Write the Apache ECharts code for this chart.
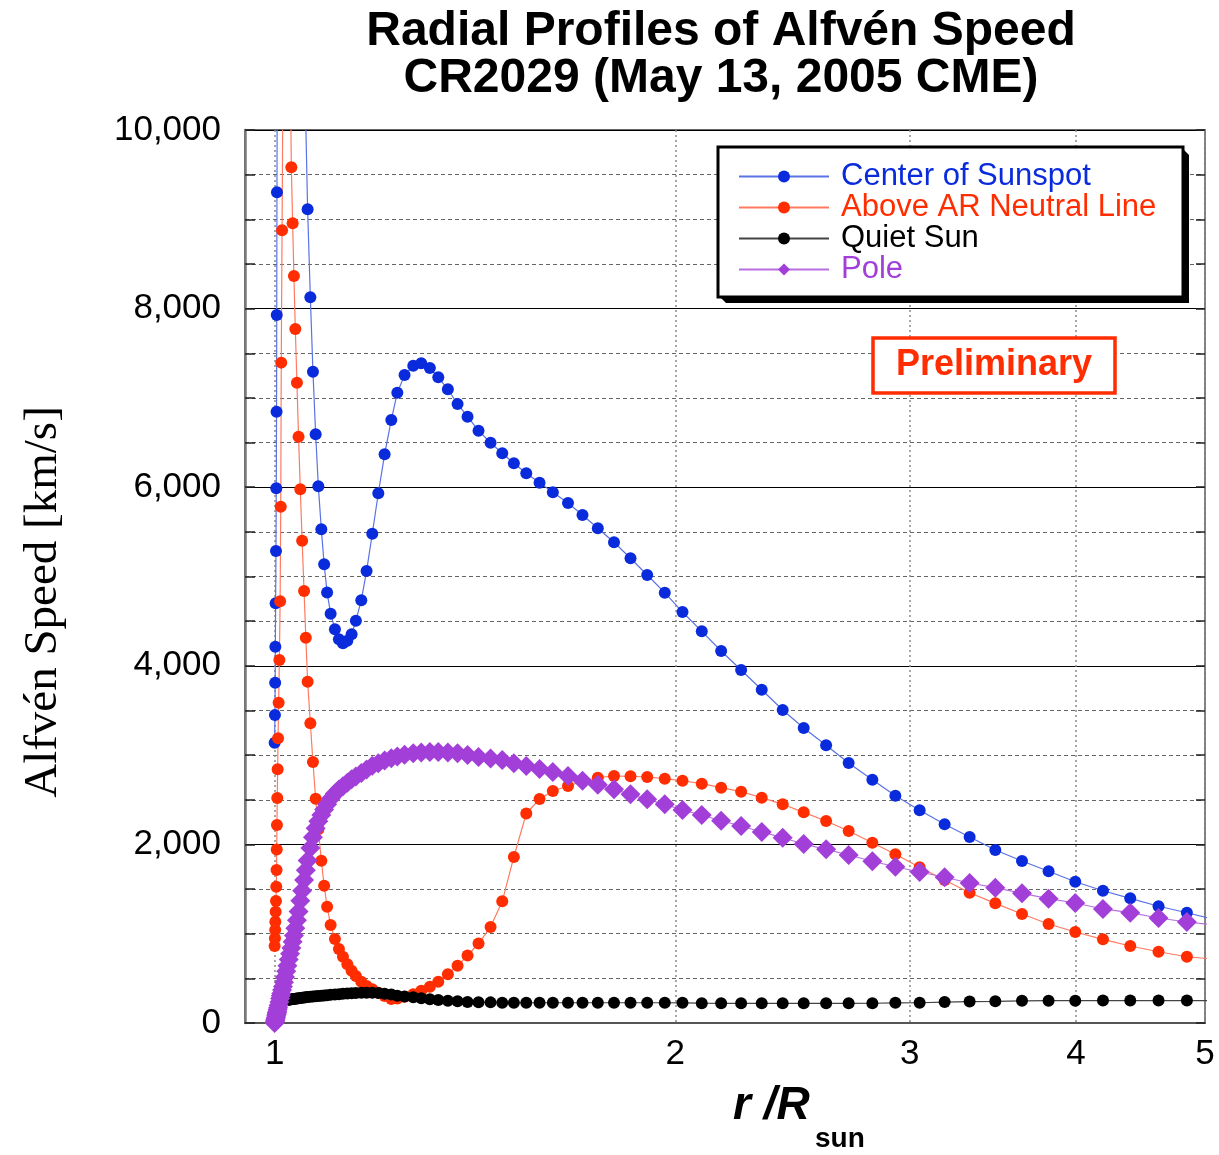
<!DOCTYPE html>
<html>
<head>
<meta charset="utf-8">
<title>Radial Profiles of Alfvén Speed</title>
<script src="https://cdn.jsdelivr.net/npm/echarts@6/dist/echarts.min.js"></script>
<style>
  html, body { margin: 0; padding: 0; background: #fff; }
  #chart { width: 1219px; height: 1155px; }
</style>
</head>
<body>
<div id="chart"></div>
<script>
// Heliocentric distance r / R_sun shared by all four profiles
const radius = [
  1.0000, 1.0005, 1.0009, 1.0012, 1.0017, 1.0023, 1.0028, 1.0033, 1.0036, 1.0040,
  1.0045, 1.0052, 1.0059, 1.0069, 1.0082, 1.0095, 1.0106, 1.0115, 1.0129, 1.0145,
  1.0162, 1.0181, 1.0203, 1.0224, 1.0247, 1.0270, 1.0293, 1.0316, 1.0339, 1.0364,
  1.0393, 1.0422, 1.0454, 1.0487, 1.0522, 1.0554, 1.0587, 1.0637, 1.0685, 1.0735,
  1.0785, 1.0841, 1.0894, 1.0950, 1.1017, 1.1099, 1.1176, 1.1254, 1.1340, 1.1424,
  1.1509, 1.1617, 1.1724, 1.1840, 1.1964, 1.2095, 1.2236, 1.2364, 1.2520, 1.2710,
  1.2887, 1.3080, 1.3272, 1.3494, 1.3722, 1.3961, 1.4229, 1.4528, 1.4825, 1.5126,
  1.5454, 1.5813, 1.6181, 1.6611, 1.7033, 1.7490, 1.7987, 1.8508, 1.9050, 1.9638,
  2.0249, 2.0936, 2.1650, 2.2411, 2.3224, 2.4082, 2.4973, 2.5960, 2.6993, 2.8123,
  2.9264, 3.0520, 3.1868, 3.3276, 3.4788, 3.6432, 3.8146, 3.9949, 4.1909, 4.3935,
  4.6138, 4.8458, 5.0892
];

// Alfvén speed [km/s]
const centerOfSunspot = [
  3139, 3449, 3811, 4214, 4700, 5286, 5988, 6846, 7928, 9302,
  10600, 12000, 13500, 15500, 17500, 19500, 21000, 22000, 23000, 24000,
  24500, 24800, 24600, 24000, 23000, 21800, 20400, 19000, 17600, 16200,
  14900, 13700, 12600, 11600, 10800, 10050, 9112, 8127, 7294, 6592,
  6010, 5530, 5137, 4821, 4584, 4409, 4297, 4252, 4281, 4353,
  4505, 4733, 5062, 5479, 5932, 6368, 6753, 7058, 7256, 7360,
  7387, 7335, 7231, 7096, 6932, 6790, 6633, 6498, 6380, 6268,
  6156, 6050, 5943, 5823, 5689, 5540, 5383, 5204, 5017, 4819,
  4602, 4386, 4166, 3953, 3732, 3505, 3303, 3110, 2912, 2725,
  2545, 2382, 2225, 2083, 1937, 1814, 1699, 1582, 1481, 1396,
  1307, 1235, 1156
];

const aboveNeutralLine = [
  862, 948, 1041, 1134, 1246, 1365, 1526, 1713, 1942, 2217,
  2520, 2841, 3188, 3587, 4065, 4723, 5780, 7395, 8877, 10560,
  12000, 13000, 13500, 13300, 12300, 10900, 9582, 8955, 8365, 7772,
  7170, 6566, 5976, 5401, 4838, 4315, 3822, 3356, 2923, 2512,
  2170, 1817, 1538, 1302, 1097, 941, 829, 742, 657, 586,
  526, 462, 414, 377, 339, 302, 268, 275, 293, 322,
  360, 407, 462, 547, 642, 756, 890, 1075, 1363, 1860,
  2346, 2508, 2598, 2654, 2707, 2747, 2766, 2763, 2755, 2736,
  2713, 2680, 2635, 2590, 2523, 2449, 2359, 2262, 2150, 2019,
  1890, 1744, 1601, 1459, 1340, 1221, 1109, 1019, 937, 862,
  798, 742, 714
];

const quietSun = [
  20, 45, 70, 95, 120, 140, 158, 172, 183, 192,
  200, 207, 213, 219, 224, 229, 233, 236, 240, 244,
  248, 251, 254, 257, 260, 263, 266, 268, 270, 272,
  275, 277, 280, 282, 285, 287, 290, 293, 296, 299,
  302, 305, 308, 311, 315, 319, 323, 327, 331, 334,
  337, 339, 340, 339, 335, 328, 318, 306, 296, 288,
  278, 267, 258, 250, 243, 236, 232, 231, 228, 227,
  227, 227, 227, 227, 227, 227, 227, 227, 227, 227,
  226, 222, 220, 220, 220, 220, 220, 220, 220, 221,
  226, 227, 234, 240, 243, 248, 250, 250, 251, 251,
  251, 251, 251
];

const pole = [
  0, 15, 25, 35, 50, 65, 80, 95, 105, 115,
  130, 150, 170, 200, 235, 275, 305, 330, 370, 410,
  455, 515, 580, 640, 710, 775, 840, 910, 980, 1060,
  1150, 1250, 1370, 1480, 1600, 1710, 1820, 1960, 2080, 2180,
  2260, 2330, 2390, 2450, 2510, 2570, 2615, 2650, 2690, 2730,
  2760, 2800, 2840, 2880, 2910, 2940, 2965, 2985, 3005, 3020,
  3030, 3035, 3035, 3030, 3020, 3000, 2980, 2962, 2945, 2908,
  2878, 2844, 2811, 2766, 2713, 2669, 2617, 2561, 2505, 2449,
  2385, 2329, 2265, 2206, 2139, 2075, 2004, 1945, 1881, 1811,
  1750, 1691, 1632, 1568, 1515, 1452, 1392, 1344, 1277, 1235,
  1176, 1131, 1097
];

// Axis tick labels
const xTickValues = [1, 2, 3, 4, 5];
const seriesNames = ['Center of Sunspot', 'Above AR Neutral Line', 'Quiet Sun', 'Pole'];

const SANS = '"Liberation Sans", Arial, Helvetica, sans-serif';
const SERIF = '"Liberation Serif", "Times New Roman", serif';

const BLUE = '#0a2bdc', BLUE_LINE = '#5a72e4';
const RED = '#ff2d00', RED_LINE = '#ff7a60';
const BLACK = '#000000', BLACK_LINE = '#444444';
const PURPLE = '#a33fd9', PURPLE_LINE = '#b86fe2';

function profile(name, values, symbol, size, color, lineColor) {
  return {
    name: name,
    type: 'line',
    data: radius.map((r, i) => [r, values[i]]),
    symbol: symbol,
    symbolSize: size,
    showAllSymbol: true,
    clip: true,
    silent: true,
    itemStyle: { color: color, borderWidth: 0 },
    lineStyle: { color: lineColor, width: 1.2 },
    emphasis: { disabled: true }
  };
}

const chart = echarts.init(document.getElementById('chart'), null, { renderer: 'canvas' });

// Legend frame with its solid drop shadow
const boxL = 718, boxT = 147, boxW = 465, boxH = 150, depth = 6;

const option = {
  animation: false,
  backgroundColor: '#ffffff',
  grid: {
    left: 245, top: 130, width: 960, height: 893,
    show: true, borderColor: '#333', borderWidth: 1.5, backgroundColor: 'transparent'
  },
  xAxis: {
    type: 'log', logBase: 10, min: 0.95, max: 5,
    axisLine: { show: true, onZero: false, lineStyle: { color: '#555', width: 2 } },
    axisTick: { show: false, customValues: xTickValues },
    axisLabel: {
      customValues: xTickValues,
      formatter: v => String(Math.round(v)),
      fontFamily: SANS, fontSize: 35, color: '#000', margin: 14
    },
    splitLine: { show: true, lineStyle: { color: '#8a8a8a', type: [2, 3], width: 1.5 } }
  },
  yAxis: [
    {
      type: 'value', min: 0, max: 10000, interval: 2000, position: 'left',
      axisLine: { show: true, lineStyle: { color: '#7a7a7a', width: 2.5 } },
      axisTick: { show: true, inside: true, length: 10, lineStyle: { color: '#222', width: 1.5 } },
      minorTick: { show: true, splitNumber: 4, length: 10, lineStyle: { color: '#222', width: 1.5 } },
      axisLabel: {
        formatter: v => v.toLocaleString('en-US'),
        fontFamily: SANS, fontSize: 35, color: '#000', margin: 24
      },
      splitLine: { show: true, lineStyle: { color: '#000', width: 1 } },
      minorSplitLine: { show: true, lineStyle: { color: '#666', type: [4, 3], width: 1 } }
    },
    {
      type: 'value', min: 0, max: 10000, interval: 2000, position: 'right',
      axisLine: { show: true, lineStyle: { color: '#888', width: 1.5 } },
      axisTick: { show: true, inside: true, length: 9, lineStyle: { color: '#222', width: 1.5 } },
      minorTick: { show: true, splitNumber: 4, length: 9, lineStyle: { color: '#222', width: 1.5 } },
      axisLabel: { show: false },
      splitLine: { show: false },
      minorSplitLine: { show: false }
    }
  ],
  legend: {
    orient: 'vertical',
    left: boxL, top: boxT,
    padding: [14, 20, 16, 20],
    itemWidth: 90, itemHeight: 15, itemGap: 0,
    backgroundColor: 'transparent', borderWidth: 0,
    selectedMode: false,
    z: 10,
    textStyle: { fontFamily: SANS, fontSize: 31, lineHeight: 30, padding: [0, 0, 0, 7] },
    data: [
      { name: seriesNames[0], textStyle: { color: BLUE } },
      { name: seriesNames[1], textStyle: { color: RED } },
      { name: seriesNames[2], textStyle: { color: BLACK } },
      { name: seriesNames[3], textStyle: { color: PURPLE } }
    ]
  },
  graphic: [
    {
      type: 'text', x: 721, y: 32, silent: true,
      style: {
        text: 'Radial Profiles of Alfvén Speed', align: 'center', verticalAlign: 'middle',
        font: 'bold 48px ' + SANS, fill: '#000'
      }
    },
    {
      type: 'text', x: 721, y: 79, silent: true,
      style: {
        text: 'CR2029 (May 13, 2005 CME)', align: 'center', verticalAlign: 'middle',
        font: 'bold 48px ' + SANS, fill: '#000'
      }
    },
    {
      type: 'text', x: 44, y: 602, rotation: Math.PI / 2, silent: true,
      style: {
        text: 'Alfvén Speed [km/s]', align: 'center', verticalAlign: 'middle',
        font: '47px ' + SERIF, fill: '#000'
      }
    },
    {
      type: 'text', x: 733, y: 1106, silent: true,
      style: {
        text: 'r /R', align: 'left', verticalAlign: 'middle',
        font: 'italic bold 46px ' + SANS, fill: '#000'
      }
    },
    {
      type: 'text', x: 815, y: 1139, silent: true,
      style: {
        text: 'sun', align: 'left', verticalAlign: 'middle',
        font: 'bold 28px ' + SANS, fill: '#000'
      }
    },
    {
      type: 'polygon', z: 3, silent: true,
      shape: {
        points: [
          [boxL + boxW - 2, boxT], [boxL + boxW + depth, boxT + depth + 2],
          [boxL + boxW + depth, boxT + boxH + depth], [boxL + depth + 2, boxT + boxH + depth],
          [boxL, boxT + boxH - 2]
        ]
      },
      style: { fill: '#000' }
    },
    {
      type: 'rect', z: 3, silent: true,
      shape: { x: boxL, y: boxT, width: boxW, height: boxH },
      style: { fill: '#fff', stroke: '#000', lineWidth: 3 }
    },
    {
      type: 'rect', z: 3, silent: true,
      shape: { x: 873, y: 338, width: 242, height: 55 },
      style: { fill: '#fff', stroke: RED, lineWidth: 3.5 }
    },
    {
      type: 'text', z: 3, x: 994, y: 365, silent: true,
      style: {
        text: 'Preliminary', align: 'center', verticalAlign: 'middle',
        font: 'bold 36px ' + SANS, fill: RED
      }
    }
  ],
  series: [
    profile(seriesNames[0], centerOfSunspot, 'circle', 12, BLUE, BLUE_LINE),
    profile(seriesNames[1], aboveNeutralLine, 'circle', 12, RED, RED_LINE),
    profile(seriesNames[2], quietSun, 'circle', 12, BLACK, BLACK_LINE),
    profile(seriesNames[3], pole, 'diamond', 20, PURPLE, PURPLE_LINE)
  ]
};

chart.setOption(option);
</script>
</body>
</html>
